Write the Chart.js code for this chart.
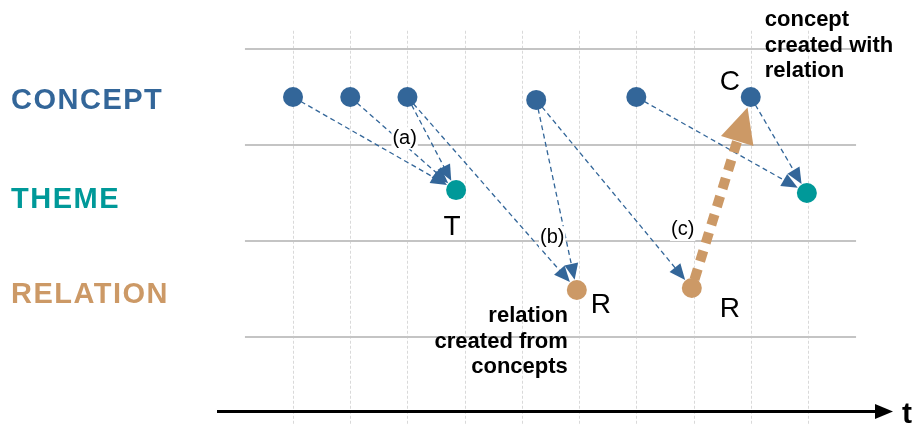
<!DOCTYPE html>
<html>
<head>
<meta charset="utf-8">
<script src="https://cdn.jsdelivr.net/npm/chart.js@4/dist/chart.umd.min.js"></script>
<style>
  html, body { margin: 0; padding: 0; background: #ffffff; overflow: hidden; }
  #wrap { width: 920px; height: 425px; }
  canvas { display: block; }
</style>
</head>
<body>
<div id="wrap"><canvas id="c" width="920" height="425"></canvas></div>
<script>
// ---- data ----
const timeSteps = [1, 2, 3, 4, 5, 6, 7, 8, 9, 10];
const rowBoundaries = [0.5, 1.5, 2.5, 3.5];
const rowLabels = ['CONCEPT', 'THEME', 'RELATION'];
const rowLevels = [3, 2, 1];

const conceptT = [1, 2, 3, 5.25, 7, 9];
const conceptLevel = [3, 3, 3, 2.97, 3, 3];
const themeT = [3.85, 9.98];
const themeLevel = [2.03, 2.0];
const relationT = [5.96, 7.97];
const relationLevel = [0.99, 1.01];

// links: [fromSeries, fromIndex, toSeries, toIndex]
const derivedLinks = [
  ['concept', 0, 'theme', 0],
  ['concept', 1, 'theme', 0],
  ['concept', 2, 'theme', 0],
  ['concept', 2, 'relation', 0],
  ['concept', 3, 'relation', 0],
  ['concept', 3, 'relation', 1],
  ['concept', 4, 'theme', 1],
  ['concept', 5, 'theme', 1]
];
const creationLinks = [
  ['relation', 1, 'concept', 5]
];

const stepLabels = ['(a)', '(b)', '(c)'];
const stepLabelT = [2.95, 5.53, 7.81];
const stepLabelLevel = [2.57, 1.54, 1.615];

const pointLetters = [
  ['theme', 0, 'T'],
  ['relation', 0, 'R'],
  ['relation', 1, 'R'],
  ['concept', 5, 'C']
];
const noteConcept = ['concept', 'created with', 'relation'];
const noteRelation = ['relation', 'created from', 'concepts'];

// ---- styles ----
const BLUE = '#336699', TEAL = '#009999', ORANGE = '#CC9966';
const FONT = '"Liberation Sans", Arial, Helvetica, sans-serif';
// pixel geometry of the scales: x value t -> X0 + t*XK ; y value v -> Y0 - v*YK
const X0 = 235.8, XK = 57.22, Y0 = 385, YK = 96;

function toPts(xs, ys) { return xs.map((x, i) => ({ x: x, y: ys[i] })); }
const series = {
  concept: toPts(conceptT, conceptLevel),
  theme: toPts(themeT, themeLevel),
  relation: toPts(relationT, relationLevel)
};

function px(chart, p) {
  return { x: chart.scales.x.getPixelForValue(p.x), y: chart.scales.y.getPixelForValue(p.y) };
}

function drawArrow(ctx, a, b, o) {
  const dx = b.x - a.x, dy = b.y - a.y;
  const len = Math.hypot(dx, dy);
  const ux = dx / len, uy = dy / len;
  const sx = a.x + ux * o.startGap, sy = a.y + uy * o.startGap;
  const tx = b.x - ux * o.endGap, ty = b.y - uy * o.endGap;
  const bx = tx - ux * o.headLen, by = ty - uy * o.headLen;
  ctx.save();
  ctx.strokeStyle = o.color;
  ctx.lineWidth = o.width;
  ctx.setLineDash(o.dash);
  ctx.lineCap = 'butt';
  ctx.beginPath();
  ctx.moveTo(sx, sy);
  ctx.lineTo(bx + ux * 1, by + uy * 1);
  ctx.stroke();
  ctx.setLineDash([]);
  ctx.fillStyle = o.color;
  ctx.beginPath();
  ctx.moveTo(tx, ty);
  ctx.lineTo(bx - uy * o.headW / 2, by + ux * o.headW / 2);
  ctx.lineTo(bx + uy * o.headW / 2, by - ux * o.headW / 2);
  ctx.closePath();
  ctx.fill();
  ctx.restore();
}

// make the scale ranges match the chart area so values land on the intended pixels
const calibratePlugin = {
  id: 'calibrate',
  afterLayout(chart) {
    const ca = chart.chartArea;
    const ys = chart.options.scales.y, xs = chart.options.scales.x;
    const ymax = (Y0 - ca.top) / YK, ymin = (Y0 - ca.bottom) / YK;
    const xmin = (ca.left - X0) / XK, xmax = (ca.right - X0) / XK;
    if (Math.abs(ys.max - ymax) > 1e-6 || Math.abs(ys.min - ymin) > 1e-6 ||
        Math.abs(xs.min - xmin) > 1e-6 || Math.abs(xs.max - xmax) > 1e-6) {
      ys.max = ymax; ys.min = ymin; xs.min = xmin; xs.max = xmax;
      setTimeout(() => chart.update('none'), 0);
    }
  }
};

const diagramPlugin = {
  id: 'diagram',
  beforeDatasetsDraw(chart) {
    const ctx = chart.ctx;
    const xs = chart.scales.x, ys = chart.scales.y;
    ctx.save();
    // vertical time guides
    ctx.strokeStyle = '#d9d9d9';
    ctx.lineWidth = 1;
    ctx.setLineDash([3, 2]);
    timeSteps.forEach(t => {
      const x = Math.round(xs.getPixelForValue(t)) + 0.5;
      ctx.beginPath();
      ctx.moveTo(x, ys.getPixelForValue(3.69));
      ctx.lineTo(x, 425);
      ctx.stroke();
    });
    ctx.setLineDash([]);
    // horizontal row boundaries
    ctx.strokeStyle = '#c4c4c4';
    ctx.lineWidth = 2;
    rowBoundaries.forEach(v => {
      const y = ys.getPixelForValue(v);
      ctx.beginPath();
      ctx.moveTo(xs.getPixelForValue(0.16), y);
      ctx.lineTo(xs.getPixelForValue(10.84), y);
      ctx.stroke();
    });
    // time axis
    const ay = 411.5;
    ctx.strokeStyle = '#000';
    ctx.lineWidth = 3;
    ctx.beginPath();
    ctx.moveTo(217, ay);
    ctx.lineTo(878, ay);
    ctx.stroke();
    ctx.fillStyle = '#000';
    ctx.beginPath();
    ctx.moveTo(893, ay);
    ctx.lineTo(875, ay - 7.5);
    ctx.lineTo(875, ay + 7.5);
    ctx.closePath();
    ctx.fill();
    ctx.font = 'bold 30px ' + FONT;
    ctx.textAlign = 'left';
    ctx.textBaseline = 'alphabetic';
    ctx.fillText('t', 902, 423);
    ctx.restore();

    // dashed derivation arrows
    derivedLinks.forEach(l => {
      const a = px(chart, series[l[0]][l[1]]);
      const b = px(chart, series[l[2]][l[3]]);
      drawArrow(ctx, a, b, { color: BLUE, width: 1.3, dash: [5, 3.5], startGap: 9, endGap: 10.5, headLen: 16, headW: 14 });
    });
    // thick creation arrow
    creationLinks.forEach(l => {
      const a = px(chart, series[l[0]][l[1]]);
      const b = px(chart, series[l[2]][l[3]]);
      drawArrow(ctx, a, b, { color: ORANGE, width: 10, dash: [11, 8], startGap: 9, endGap: 11, headLen: 35, headW: 34 });
    });

    // step labels with white background
    ctx.save();
    ctx.font = '20px ' + FONT;
    ctx.textAlign = 'center';
    ctx.textBaseline = 'middle';
    stepLabels.forEach((s, i) => {
      const x = xs.getPixelForValue(stepLabelT[i]);
      const y = ys.getPixelForValue(stepLabelLevel[i]);
      const w = ctx.measureText(s).width;
      ctx.fillStyle = '#fff';
      ctx.fillRect(x - w / 2 - 1, y - 11, w + 2, 22);
      ctx.fillStyle = '#000';
      ctx.fillText(s, x, y);
    });
    ctx.restore();
  },
  afterDatasetsDraw(chart) {
    const ctx = chart.ctx;
    const ys = chart.scales.y;
    ctx.save();
    // row labels
    const rowColors = [BLUE, TEAL, ORANGE];
    const rowOffsets = [4, 6.5, 6];
    ctx.font = 'bold 29px ' + FONT;
    ctx.textAlign = 'left';
    ctx.textBaseline = 'middle';
    try { ctx.letterSpacing = '1.5px'; } catch (e) {}
    rowLabels.forEach((s, i) => {
      ctx.fillStyle = rowColors[i];
      ctx.fillText(s, 11, ys.getPixelForValue(rowLevels[i]) + rowOffsets[i]);
    });
    try { ctx.letterSpacing = '0px'; } catch (e) {}

    // point letters
    const letterOffsets = [[-4, 37], [24, 15], [38, 21], [-21, -15]];
    ctx.font = '28px ' + FONT;
    ctx.textAlign = 'center';
    ctx.fillStyle = '#000';
    pointLetters.forEach((p, i) => {
      const q = px(chart, series[p[0]][p[1]]);
      ctx.fillText(p[2], q.x + letterOffsets[i][0], q.y + letterOffsets[i][1]);
    });

    // notes
    ctx.font = 'bold 22px ' + FONT;
    const c = px(chart, series.concept[5]);
    ctx.textAlign = 'left';
    noteConcept.forEach((s, i) => ctx.fillText(s, c.x + 14, c.y - 77 + i * 25.5));
    const r = px(chart, series.relation[0]);
    ctx.textAlign = 'right';
    noteRelation.forEach((s, i) => ctx.fillText(s, r.x - 9, r.y + 26 + i * 25.5));
    ctx.restore();
  }
};

new Chart(document.getElementById('c'), {
  type: 'scatter',
  data: {
    datasets: [
      { label: 'CONCEPT', data: series.concept, backgroundColor: BLUE, pointRadius: 10, pointHoverRadius: 10, borderWidth: 0 },
      { label: 'THEME', data: series.theme, backgroundColor: TEAL, pointRadius: 10, pointHoverRadius: 10, borderWidth: 0 },
      { label: 'RELATION', data: series.relation, backgroundColor: ORANGE, pointRadius: 10, pointHoverRadius: 10, borderWidth: 0 }
    ]
  },
  options: {
    responsive: false,
    animation: false,
    events: [],
    layout: { padding: { left: 235.8, right: 54.8, top: 10.6, bottom: 1.6 } },
    scales: {
      x: { type: 'linear', min: 0, max: 11, bounds: 'data', display: false },
      y: { type: 'linear', min: -0.4, max: 3.9, bounds: 'data', display: false }
    },
    plugins: { legend: { display: false }, tooltip: { enabled: false } }
  },
  plugins: [calibratePlugin, diagramPlugin]
});
</script>
</body>
</html>
